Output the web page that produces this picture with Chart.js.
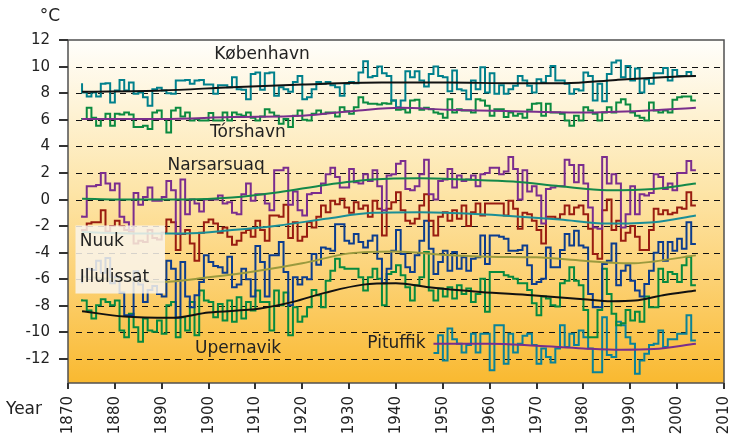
<!DOCTYPE html>
<html>
<head>
<meta charset="utf-8">
<script src="https://cdn.jsdelivr.net/npm/chart.js@4.4.0/dist/chart.umd.min.js"></script>
<style>
    html, body { margin: 0; padding: 0; background: #fff; }
</style>
</head>
<body>
<canvas id="myChart" width="729" height="441"></canvas>
<script>
/* annual means, one value per year */
const firstYear = 1873;
const pituffikFirstYear = 1948;

const kobenhavn = [
    8.75, 8.05, 7.75, 8.05, 7.75, 8.7, 8.75, 7.3, 8.2, 9.0,
    8.2, 8.8, 7.95, 8.05, 7.7, 7.05, 8.3, 8.4, 8.2, 8.0,
    7.95, 8.95, 8.95, 9.0, 8.7, 8.95, 9.0, 8.65, 8.65, 7.95,
    8.6, 8.6, 8.45, 9.2, 8.3, 8.25, 7.55, 9.45, 9.55, 8.25,
    9.5, 9.55, 7.8, 8.45, 8.3, 8.1, 8.85, 9.3, 7.55, 7.7,
    8.3, 8.85, 8.7, 8.85, 8.6, 8.45, 7.8, 8.7, 8.85, 8.75,
    9.55, 10.4, 9.2, 9.3, 10.0, 9.5, 9.3, 7.45, 6.95, 7.45,
    9.65, 9.2, 9.65, 8.95, 8.5, 9.45, 10.0, 9.3, 9.2, 8.15,
    9.7, 8.3, 8.2, 7.55, 8.95, 8.3, 9.95, 8.05, 9.5, 7.95,
    8.6, 7.95, 8.3, 8.55, 9.3, 8.95, 8.55, 8.05, 9.05, 8.8,
    9.3, 10.05, 8.95, 8.95, 8.7, 7.95, 8.3, 8.2, 9.55, 9.3,
    7.45, 8.7, 7.4, 9.45, 10.3, 10.45, 9.2, 10.05, 8.95, 9.85,
    8.05, 9.05, 8.7, 9.5, 9.5, 9.9, 8.95, 9.75, 9.3, 9.3,
    9.6, 9.3
];
const torshavn = [
    6.0, 6.05, 6.9, 6.15, 5.55, 6.05, 6.45, 5.55, 6.45, 6.4,
    6.55, 6.4, 5.45, 5.45, 5.55, 5.3, 6.55, 6.7, 6.05, 5.05,
    6.7, 6.9, 6.25, 6.55, 5.95, 6.05, 5.95, 5.95, 6.5, 5.95,
    5.95, 6.55, 5.95, 6.55, 6.4, 6.3, 6.55, 6.15, 5.95, 6.25,
    6.8, 6.55, 6.3, 5.7, 6.05, 5.45, 6.3, 6.7, 6.0, 5.95,
    6.45, 6.7, 6.45, 6.55, 6.55, 6.25, 6.95, 6.65, 6.45, 6.95,
    7.7, 7.3, 7.2, 7.2, 7.15, 7.25, 7.2, 7.45, 6.75, 6.8,
    6.55, 7.45, 7.5, 6.75, 6.9, 6.8, 6.55, 6.45, 6.15, 7.55,
    6.55, 6.8, 6.7, 6.7, 6.55, 7.55, 7.45, 7.05, 6.3, 6.8,
    6.8, 6.2, 6.55, 6.3, 6.45, 6.15, 6.75, 7.2, 7.25, 6.3,
    7.2, 6.55, 6.55, 6.45, 5.95, 5.55, 6.3, 5.95, 6.95, 6.7,
    6.45, 5.95, 6.55, 6.95, 6.55, 7.3, 7.55, 7.15, 6.55, 6.3,
    6.15, 5.95, 7.3, 6.7, 6.55, 6.7, 6.55, 7.5, 7.7, 7.75,
    7.75, 7.45
];
const narsarsuaq = [
    -1.2, -1.3, 1.0, 1.0, 1.1, 2.0, 1.2, 0.7, 1.2, -1.3,
    -1.7, -2.3, 0.5, -0.4, 0.2, 0.9, -0.1, -0.1, 0.2, 1.4,
    0.7, -2.6, 1.5, -1.1, 0.0, -0.3, -0.9, 0.0, 0.0, 0.0,
    0.3, -0.3, -0.2, -1.0, -1.1, 0.4, 1.2, -0.1, 0.4, 0.4,
    -0.3, -0.8, 2.2, 2.2, 2.4, -0.4, 0.6, -0.8, -1.2, 0.4,
    0.5, 0.5, 1.2, 1.9, 2.4, 1.7, 0.9, 0.9, 2.3, 1.3,
    1.2, 1.9, 1.4, 2.2, 1.0, -0.8, 1.8, 1.9, 2.7, 2.9,
    0.8, 0.7, 1.0, 1.9, 3.0, 0.4, 0.0, 1.4, 1.5, 2.3,
    0.9, 1.8, 1.4, 1.5, 1.8, 1.0, 1.9, 2.0, 2.4, 2.4,
    1.9, 2.1, 3.2, 2.3, 0.0, 2.2, 0.6, 1.0, 0.3, -1.8,
    0.8, 0.9, 1.0, 1.0, 3.0, 2.6, 1.3, 2.6, 1.2, -0.6,
    -2.1, -2.2, 3.2, 1.2, 1.9, 1.2, -2.1, -1.1, 1.0, -1.1,
    0.4, 0.3, 0.5, 1.9, 1.7, 0.8, 1.2, 0.7, 2.0, 2.0,
    2.9, 2.2
];
const nuuk = [
    -2.4, -2.3, -1.8, -1.7, -1.7, -0.8, -2.4, -2.0, -1.6, -2.0,
    -2.3, -2.4, -3.3, -3.1, -3.2, -2.3, -2.9, -3.0, -2.5, -1.5,
    -1.7, -3.8, -2.6, -2.3, -3.3, -4.6, -2.5, -1.7, -1.5, -1.8,
    -2.5, -2.1, -2.8, -3.4, -3.1, -2.5, -2.3, -2.8, -1.6, -2.3,
    -3.1, -1.2, -1.2, -1.3, -0.4, -2.9, -1.7, -3.1, -2.8, -1.7,
    -2.1, -1.3, -0.45, -0.95, -0.1, -0.35, 0.05, -0.6, -1.0, -0.2,
    -0.7, -0.45, -1.3, -0.1, -0.7, -2.7, -0.7, -0.2, 0.55, -0.8,
    -1.6, -1.8, -1.45, -0.45, 0.4, -1.6, -2.7, -1.3, -0.95, -1.6,
    -0.8, -1.45, -0.45, -2.0, -0.95, -0.3, -1.2, -0.3, -0.3, -0.3,
    -0.3, -1.2, -0.1, -0.7, -2.2, -1.0, -1.1, -1.6, -2.3, -3.3,
    -1.3, -1.3, -1.45, -1.1, -0.45, -1.1, -0.6, -0.45, -1.1, -2.2,
    -4.1, -4.45, -0.8, 0.0, -2.3, -1.6, -3.1, -2.5, -2.0, -2.8,
    -3.8, -3.8, -2.3, -0.7, -1.1, -0.8, -1.1, -1.0, -0.6, -0.7,
    0.55, -0.45
];
const illulissat = [
    -6.3, -5.8, -5.2, -5.3, -4.6, -5.5, -4.4, -6.3, -5.8, -7.0,
    -8.7, -8.7, -5.4, -6.4, -7.7, -6.8, -6.5, -7.1, -7.3, -4.6,
    -5.2, -8.9, -4.7, -7.3, -8.1, -7.2, -6.2, -4.2, -4.7, -5.0,
    -5.1, -5.5, -4.3, -6.6, -6.4, -5.2, -6.0, -7.3, -3.5, -4.7,
    -7.3, -4.2, -4.2, -3.2, -5.45, -7.95, -5.85, -6.4, -5.85, -6.0,
    -4.1, -4.9, -3.6, -3.7, -3.85, -1.85, -1.85, -3.1, -3.3, -2.6,
    -3.2, -3.6, -3.1, -2.7, -4.45, -6.3, -5.2, -3.85, -2.3, -4.1,
    -5.1, -5.45, -4.2, -3.1, -1.6, -3.7, -5.6, -4.7, -3.85, -5.35,
    -3.95, -5.2, -4.35, -5.35, -4.45, -4.35, -2.7, -4.85, -2.7, -2.7,
    -2.8, -2.95, -3.85, -3.85, -3.8, -3.45, -4.95, -6.35, -6.2, -5.95,
    -3.6, -5.1, -5.1, -3.8, -2.6, -3.45, -2.35, -3.45, -3.6, -7.1,
    -8.1, -8.1, -4.85, -4.6, -3.3, -6.45, -5.35, -4.95, -6.1, -6.85,
    -7.3, -6.35, -5.35, -4.0, -3.2, -4.6, -3.2, -3.85, -2.95, -3.7,
    -1.7, -3.35
];
const upernavik = [
    -7.5, -7.6, -8.35, -8.95, -7.95, -7.5, -7.7, -7.95, -7.6, -9.85,
    -10.35, -8.6, -9.6, -10.7, -8.95, -9.85, -9.95, -9.1, -10.1, -7.95,
    -7.7, -10.35, -8.85, -9.85, -7.7, -10.2, -6.85, -7.6, -7.7, -8.85,
    -7.85, -9.1, -7.6, -9.2, -7.35, -8.95, -7.7, -8.35, -6.85, -7.7,
    -7.7, -9.85, -6.85, -7.95, -7.0, -10.2, -8.1, -9.2, -8.8, -8.1,
    -6.8, -7.2, -8.1, -6.1, -5.35, -4.45, -5.1, -5.2, -5.2, -5.2,
    -5.85, -6.85, -5.85, -5.2, -5.95, -7.95, -5.6, -5.45, -4.95, -5.7,
    -6.6, -7.6, -6.45, -5.85, -3.95, -6.85, -7.6, -6.7, -7.3, -6.6,
    -7.45, -6.45, -7.1, -6.7, -7.7, -7.1, -5.95, -8.45, -5.45, -5.45,
    -5.45, -5.7, -5.8, -5.95, -6.3, -6.3, -6.8, -7.8, -8.7, -7.3,
    -7.45, -7.95, -8.05, -6.3, -6.1, -5.1, -6.1, -6.45, -8.3, -10.35,
    -10.35, -8.3, -5.2, -7.1, -8.6, -9.45, -9.3, -8.3, -9.1, -8.45,
    -9.2, -7.3, -8.1, -8.1, -5.2, -6.2, -5.45, -5.6, -6.2, -4.95,
    -4.3, -6.45
];
const pituffik = [
    -11.55, -11.55, -10.2, -12.1, -9.7, -10.5, -10.85, -11.5, -10.95, -10.1,
    -11.5, -10.1, -10.1, -12.85, -9.45, -9.45, -12.35, -10.1, -11.5, -10.85,
    -10.25, -10.1, -10.95, -12.35, -11.2, -11.85, -12.25, -11.2, -9.45, -11.1,
    -10.1, -10.95, -9.85, -10.35, -11.2, -13.0, -13.0, -8.85, -11.7, -11.85,
    -9.2, -9.45, -10.35, -10.85, -13.1, -12.1, -11.6, -10.95, -10.85, -9.85,
    -11.1, -10.5, -10.5, -10.1, -10.1, -8.7, -10.6
];

/* smoothed trends */
const kobenhavnTrendYears = [1873, 1890, 1905, 1920, 1937, 1951, 1965, 1976, 1987, 1997, 2004];
const kobenhavnTrend = [8.1, 8.2, 8.45, 8.65, 8.8, 8.8, 8.75, 8.75, 9.0, 9.2, 9.3];
const torshavnTrendYears = [1873, 1890, 1905, 1920, 1932, 1941, 1951, 1965, 1980, 1994, 2004];
const torshavnTrend = [6.05, 6.05, 6.2, 6.3, 6.7, 6.9, 6.75, 6.65, 6.55, 6.7, 6.9];
const narsarsuaqTrendYears = [1873, 1885, 1895, 1905, 1915, 1925, 1935, 1945, 1955, 1965, 1975, 1985, 1995, 2004];
const narsarsuaqTrend = [0.05, 0.0, 0.0, 0.15, 0.55, 1.1, 1.5, 1.6, 1.5, 1.35, 1.0, 0.7, 0.8, 1.2];
const nuukTrendYears = [1873, 1885, 1895, 1905, 1915, 1925, 1935, 1945, 1955, 1965, 1975, 1985, 1995, 2004];
const nuukTrend = [-2.45, -2.55, -2.55, -2.3, -1.95, -1.45, -1.0, -0.95, -1.05, -1.25, -1.5, -1.8, -1.7, -1.2];
const illulissatTrendYears = [1873, 1880, 1890, 1900, 1910, 1920, 1930, 1940, 1950, 1960, 1970, 1980, 1990, 2004];
const illulissatTrend = [-5.8, -6.0, -6.2, -5.85, -5.4, -4.8, -4.05, -3.9, -4.15, -4.3, -4.35, -4.6, -4.8, -4.2];
const upernavikTrendYears = [1873, 1882, 1892, 1900, 1911, 1918, 1925, 1933, 1940, 1947, 1958, 1969, 1980, 1986, 1991, 1997, 2004];
const upernavikTrend = [-8.4, -8.8, -8.9, -8.5, -8.2, -7.7, -7.0, -6.4, -6.3, -6.6, -6.95, -7.2, -7.5, -7.65, -7.6, -7.2, -6.85];
const pituffikTrendYears = [1948, 1960, 1970, 1980, 1988, 1995, 2004];
const pituffikTrend = [-10.85, -10.85, -11.0, -11.2, -11.3, -11.25, -10.85];

/* axis ticks */
const yearTicks = [1870, 1880, 1890, 1900, 1910, 1920, 1930, 1940, 1950, 1960, 1970, 1980, 1990, 2000, 2010];
const tempTicks = [12, 10, 8, 6, 4, 2, 0, -2, -4, -6, -8, -10, -12];

/* station names, anchored in data coordinates */
const stationLabels = [
    {text: 'København', year: 1911.4, value: 10.9, align: 'center'},
    {text: 'Tórshavn', year: 1908.4, value: 5.05, align: 'center'},
    {text: 'Narsarsuaq', year: 1901.6, value: 2.55, align: 'center'},
    {text: 'Nuuk', year: 1872.5, value: -3.15, align: 'left'},
    {text: 'Illulissat', year: 1872.5, value: -5.9, align: 'left'},
    {text: 'Upernavik', year: 1906.3, value: -11.2, align: 'center'},
    {text: 'Pituffik', year: 1940.1, value: -10.8, align: 'center'}
];
const labelBox = {from: 1871.6, to: 1890.7, top: -1.95, bottom: -7.07};

const FONT = "'DejaVu Sans', sans-serif";

function steps(values, start) {
    return values.map((v, i) => ({x: start + i, y: v}));
}
function trend(years, values) {
    return years.map((x, i) => ({x: x, y: values[i]}));
}
function stepSet(values, start, color) {
    return {data: steps(values, start), borderColor: color, borderWidth: 2, stepped: 'after',
        pointRadius: 0, fill: false, order: 1};
}
function trendSet(years, values, color) {
    return {data: trend(years, values), borderColor: color, borderWidth: 2,
        cubicInterpolationMode: 'monotone', pointRadius: 0, fill: false, order: 0};
}

/* background gradient and dashed grid under the lines */
const backdrop = {
    id: 'backdrop',
    beforeDraw(chart) {
        const {ctx, chartArea: a} = chart;
        const g = ctx.createLinearGradient(0, a.top, 0, a.bottom);
        g.addColorStop(0, '#fffefb');
        g.addColorStop(0.2, '#fef3d6');
        g.addColorStop(0.45, '#fde4a6');
        g.addColorStop(0.7, '#fcd173');
        g.addColorStop(1, '#f9b930');
        ctx.save();
        ctx.fillStyle = g;
        ctx.fillRect(a.left, a.top, a.right - a.left, a.bottom - a.top);
        ctx.restore();
    },
    beforeDatasetsDraw(chart) {
        const {ctx, chartArea: a} = chart;
        const y = chart.scales.y;
        ctx.save();
        ctx.strokeStyle = '#111';
        ctx.lineWidth = 1;
        ctx.setLineDash([6, 5]);
        tempTicks.forEach(v => {
            if (v >= y.max) return;
            const py = Math.round(y.getPixelForValue(v)) + 0.5;
            ctx.beginPath();
            ctx.moveTo(a.left + 8, py);
            ctx.lineTo(a.right - 2, py);
            ctx.stroke();
        });
        ctx.restore();
    }
};

/* label box, station names, frame, axis ticks and captions on top */
const overlay = {
    id: 'overlay',
    afterDraw(chart) {
        const {ctx, chartArea: a} = chart;
        const x = chart.scales.x, y = chart.scales.y;
        ctx.save();
        const bx = x.getPixelForValue(labelBox.from), bx2 = x.getPixelForValue(labelBox.to);
        const by = y.getPixelForValue(labelBox.top), by2 = y.getPixelForValue(labelBox.bottom);
        ctx.fillStyle = 'rgba(249,245,236,0.85)';
        ctx.fillRect(bx, by, bx2 - bx, by2 - by);

        ctx.fillStyle = '#222';
        ctx.font = '17px ' + FONT;
        ctx.textBaseline = 'middle';
        stationLabels.forEach(l => {
            ctx.textAlign = l.align;
            ctx.fillText(l.text, x.getPixelForValue(l.year), y.getPixelForValue(l.value));
        });

        ctx.strokeStyle = '#505050';
        ctx.lineWidth = 1.5;
        ctx.strokeRect(a.left, a.top, a.right - a.left, a.bottom - a.top);

        /* temperature ticks */
        ctx.strokeStyle = '#333';
        ctx.lineWidth = 2;
        ctx.font = '15px ' + FONT;
        ctx.textAlign = 'right';
        ctx.textBaseline = 'middle';
        tempTicks.forEach(v => {
            const py = Math.round(y.getPixelForValue(v));
            ctx.beginPath();
            ctx.moveTo(a.left - 9, py);
            ctx.lineTo(a.left, py);
            ctx.stroke();
            ctx.fillText(String(v), 50, py);
        });

        /* year ticks, labels read bottom to top */
        yearTicks.forEach(v => {
            const px = Math.round(x.getPixelForValue(v));
            ctx.beginPath();
            ctx.moveTo(px, a.bottom);
            ctx.lineTo(px, a.bottom + 6);
            ctx.stroke();
            ctx.save();
            ctx.setTransform(0, -1, 1, 0, px, a.bottom + 13);
            ctx.textAlign = 'right';
            ctx.textBaseline = 'middle';
            ctx.fillText(String(v), 0, 0);
            ctx.restore();
        });

        ctx.font = '17px ' + FONT;
        ctx.textAlign = 'center';
        ctx.textBaseline = 'middle';
        ctx.fillText('°C', 50, 17);
        ctx.textAlign = 'left';
        ctx.textBaseline = 'alphabetic';
        ctx.fillText('Year', 6, 414);
        ctx.restore();
    }
};

const myChart = new Chart(document.getElementById('myChart').getContext('2d'), {
    type: 'line',
    data: {
        datasets: [
            stepSet(kobenhavn, firstYear, '#00808c'),
            stepSet(torshavn, firstYear, '#0b8a40'),
            stepSet(narsarsuaq, firstYear, '#7b2d8e'),
            stepSet(nuuk, firstYear, '#991c10'),
            stepSet(illulissat, firstYear, '#0c3d8e'),
            stepSet(upernavik, firstYear, '#078a3f'),
            stepSet(pituffik, pituffikFirstYear, '#0a8398'),
            trendSet(kobenhavnTrendYears, kobenhavnTrend, '#111111'),
            trendSet(torshavnTrendYears, torshavnTrend, '#7a2e8c'),
            trendSet(narsarsuaqTrendYears, narsarsuaqTrend, '#13884a'),
            trendSet(nuukTrendYears, nuukTrend, '#1a8e96'),
            trendSet(illulissatTrendYears, illulissatTrend, '#9a9a3e'),
            trendSet(upernavikTrendYears, upernavikTrend, '#111111'),
            trendSet(pituffikTrendYears, pituffikTrend, '#7a2e8c')
        ]
    },
    options: {
        responsive: false,
        animation: false,
        events: [],
        layout: {padding: {top: 40, right: 5, left: 68, bottom: 58}},
        plugins: {legend: {display: false}, tooltip: {enabled: false}},
        scales: {
            x: {type: 'linear', min: 1870, max: 2010, display: false},
            y: {type: 'linear', min: -13.8, max: 12, display: false}
        }
    },
    plugins: [backdrop, overlay]
});
</script>
</body>
</html>
